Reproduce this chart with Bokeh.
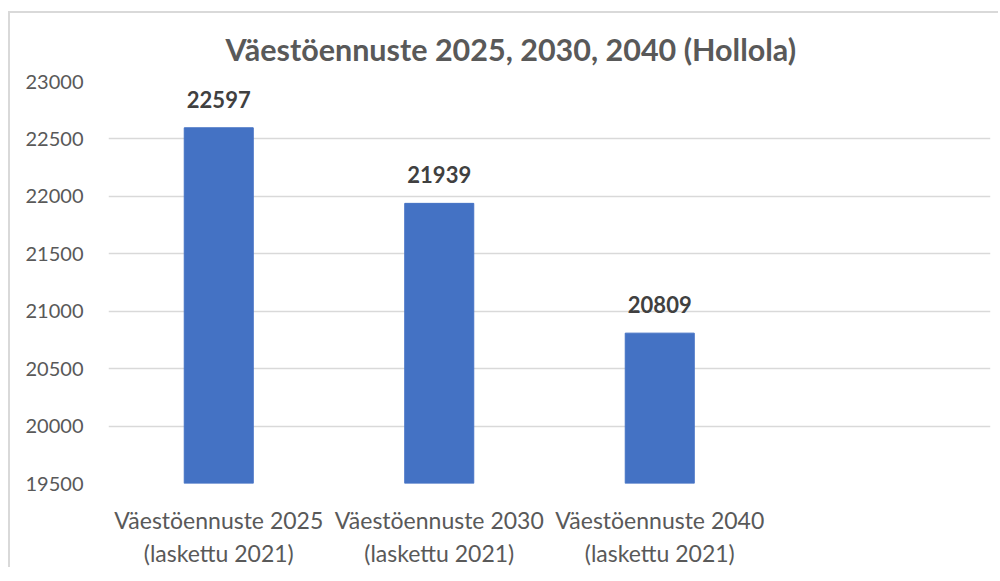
from bokeh.plotting import figure
from bokeh.models import ColumnDataSource, FactorRange, Range1d, FixedTicker, Title
from bokeh.core.properties import value
from bokeh.embed import file_html
from bokeh.resources import INLINE

title_text = "Väestöennuste 2025, 2030, 2040 (Hollola)"
categories = [
    "Väestöennuste 2025\n(laskettu 2021)",
    "Väestöennuste 2030\n(laskettu 2021)",
    "Väestöennuste 2040\n(laskettu 2021)",
]
empty_slot = [" "]
population = [22597, 21939, 20809]
y_ticks = [19500, 20000, 20500, 21000, 21500, 22000, 22500, 23000]

FONT = "Lato"
BAR = "#4472C4"
GRID = "#d9d9d9"
TXT = "#595959"

src = ColumnDataSource(dict(cat=categories, val=population,
                            lab=[str(v) for v in population]))

p = figure(x_range=FactorRange(*(categories + empty_slot), range_padding=0),
           y_range=Range1d(y_ticks[0], y_ticks[-1]),
           width=990, height=556, output_backend="svg", toolbar_location=None,
           min_border_left=98, min_border_right=10, min_border_top=60, min_border_bottom=82)
p.margin = (11, 0, 0, 8)
p.styles = {"border-top": "2px solid #d9d9d9", "border-left": "2px solid #d9d9d9"}

# spacer between frame and title (closest to the frame)
p.add_layout(Title(text=" ", text_font_size="2px", text_alpha=0, standoff=23), "above")
p.add_layout(Title(text=title_text, text_font=FONT, text_font_size="30.5px",
                   text_font_style="bold", text_color=TXT, align="left",
                   offset=117, standoff=30), "above")

p.vbar(x="cat", top="val", bottom=y_ticks[0], width=0.313, source=src,
       fill_color=BAR, line_color=BAR)
p.text(x="cat", y="val", text="lab", source=src, y_offset=-20,
       text_align="center", text_baseline="bottom",
       text_font=value(FONT), text_font_size="22px", text_font_style="bold",
       text_color="#404040")

p.outline_line_color = None
p.background_fill_color = "white"
p.border_fill_color = "white"
p.xgrid.grid_line_color = None
p.ygrid.grid_line_color = GRID
p.ygrid.grid_line_width = 1.5

p.yaxis.ticker = FixedTicker(ticks=y_ticks)
p.yaxis.axis_line_color = None
p.yaxis.major_tick_line_color = None
p.yaxis.minor_tick_line_color = None
p.yaxis.major_label_standoff = 19
p.yaxis.major_label_text_font = FONT
p.yaxis.major_label_text_font_size = "20px"
p.yaxis.major_label_text_color = TXT

p.xaxis.axis_line_color = None
p.xaxis.major_tick_line_color = None
p.xaxis.major_label_standoff = 16
p.xaxis.major_label_text_font = FONT
p.xaxis.major_label_text_font_size = "23px"
p.xaxis.major_label_text_color = TXT
p.xaxis.major_label_text_line_height = 1.18

open("out.html", "w").write(file_html(p, INLINE))
